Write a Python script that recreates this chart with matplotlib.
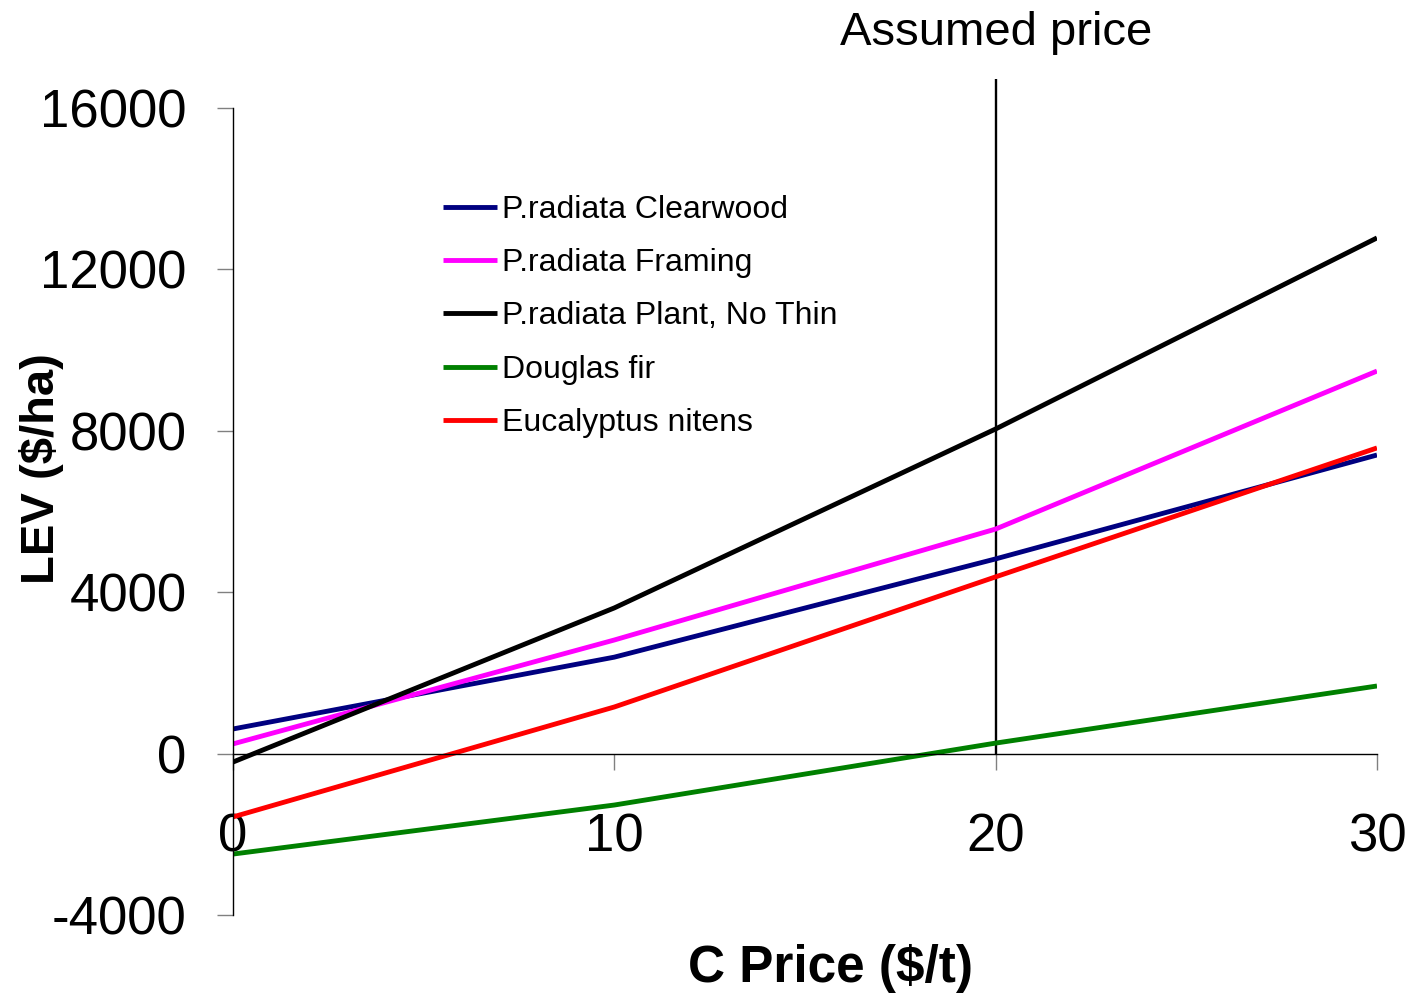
import matplotlib
matplotlib.use("Agg")
import matplotlib.pyplot as plt

plt.rcParams['font.family'] = ['Liberation Sans', 'DejaVu Sans']

c_price = [0, 10, 20, 30]
clearwood = [610, 2390, 4825, 7400]
framing = [240, 2815, 5565, 9480]
plant_no_thin = [-210, 3610, 8045, 12780]
douglas_fir = [-2490, -1275, 260, 1675]
eucalyptus = [-1570, 1155, 4380, 7575]

series_names = ["P.radiata Clearwood", "P.radiata Framing", "P.radiata Plant, No Thin",
                "Douglas fir", "Eucalyptus nitens"]
series_colors = ["#000080", "#FF00FF", "#000000", "#008000", "#FF0000"]
assumed_price = 20
x_ticks = [0, 10, 20, 30]
y_ticks = [-4000, 0, 4000, 8000, 12000, 16000]

fig = plt.figure(figsize=(14.12, 9.99), dpi=100)
ax = fig.add_axes([0.165, 0.0841, 0.8102, 0.8078])

for vals, name, col in zip([clearwood, framing, plant_no_thin, douglas_fir, eucalyptus],
                           series_names, series_colors):
    ax.plot(c_price, vals, color=col, lw=3.5, label=name, solid_capstyle='butt')

ax.set_xlim(0, 30)
ax.set_ylim(-4000, 16000)

# Assumed price marker line (extends slightly above plot area)
ax.vlines(assumed_price, 0, 16720, colors='black', lw=1.7, clip_on=False, zorder=1)
ax.text(assumed_price, 17850, "Assumed price", ha='center', va='center', fontsize=34)

ax.spines['top'].set_visible(False)
ax.spines['right'].set_visible(False)
ax.spines['bottom'].set_position(('data', 0))
ax.spines['bottom'].set_linewidth(1.0)
ax.spines['left'].set_linewidth(1.0)

ax.set_xticks(x_ticks)
ax.set_yticks(y_ticks)
ax.set_yticklabels([str(v) for v in y_ticks])
ax.tick_params(axis='y', direction='out', length=11.5, width=1.0, color='#808080',
               labelsize=38, pad=22)
ax.tick_params(axis='x', direction='out', length=11.5, width=1.0, color='#808080',
               labelsize=38, pad=31)

ax.set_xlabel("C Price ($/t)", fontsize=37, fontweight='bold', va='center')
ax.xaxis.set_label_coords(0.522, -0.0657)
ax.set_ylabel("LEV ($/ha)", fontsize=34, fontweight='bold', va='center')
ax.yaxis.set_label_coords(-0.167, 0.5527)

leg = ax.legend(loc='upper left', bbox_to_anchor=(0.1836, 0.8925), frameon=False,
                fontsize=23, handlelength=1.7, handletextpad=0.16,
                labelspacing=0.73, borderpad=0, borderaxespad=0)

fig.savefig("out.png", dpi=100)
